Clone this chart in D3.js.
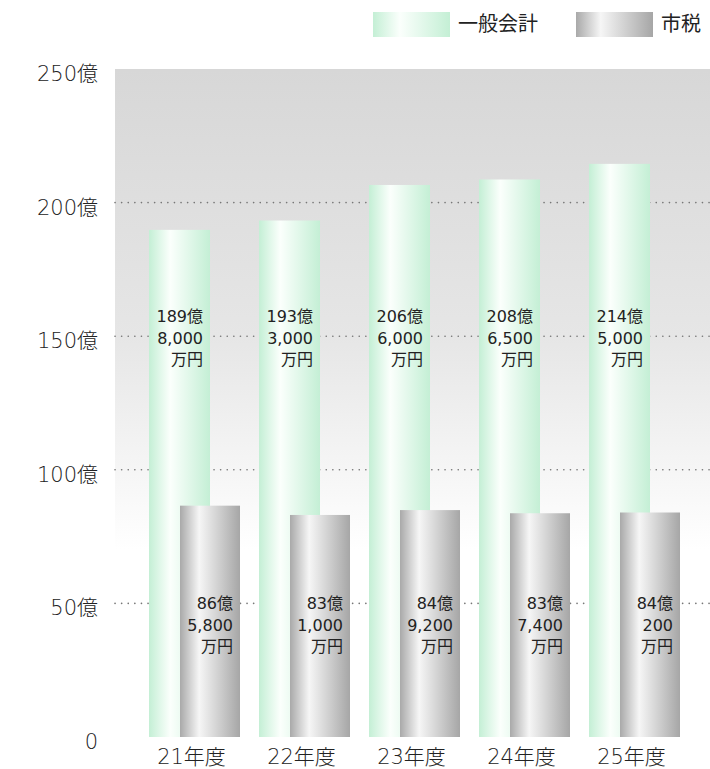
<!DOCTYPE html>
<html>
<head>
<meta charset="utf-8">
<script src="https://cdn.jsdelivr.net/npm/d3@7"></script>
<style>
body{margin:0;background:#fff;}
text{font-family:"DejaVu Sans","Noto Sans CJK JP",sans-serif;fill:#222;}
</style>
</head>
<body>
<div id="chart"></div>
<script>
var years=["21年度","22年度","23年度","24年度","25年度"]
var ippan=[189.8,193.3,206.6,208.65,214.5]
var shizei=[86.58,83.1,84.92,83.74,84.02]
var ippanLabels=[["189億","8,000","万円"],["193億","3,000","万円"],["206億","6,000","万円"],["208億","6,500","万円"],["214億","5,000","万円"]]
var shizeiLabels=[["86億","5,800","万円"],["83億","1,000","万円"],["84億","9,200","万円"],["83億","7,400","万円"],["84億","200","万円"]]
var yTicks=[0,50,100,150,200,250]
var gridTicks=[50,100,150,200]
var legendNames=["一般会計","市税"]

var width=710,height=769
var svg=d3.select("#chart").append("svg").attr("width",width).attr("height",height)
var defs=svg.append("defs")

// background fade
var bg=defs.append("linearGradient").attr("id","bg").attr("x1",0).attr("y1",0).attr("x2",0).attr("y2",1)
bg.append("stop").attr("offset","0%").attr("stop-color","#d7d7d7")
bg.append("stop").attr("offset","40%").attr("stop-color","#e6e6e6")
bg.append("stop").attr("offset","62%").attr("stop-color","#f7f7f7")
bg.append("stop").attr("offset","72%").attr("stop-color","#ffffff")
bg.append("stop").attr("offset","100%").attr("stop-color","#ffffff")

var gGreen=defs.append("linearGradient").attr("id","green").attr("x1",0).attr("x2",1).attr("y1",0).attr("y2",0)
gGreen.append("stop").attr("offset","0%").attr("stop-color","#c4efd5")
gGreen.append("stop").attr("offset","35%").attr("stop-color","#fbfffc")
gGreen.append("stop").attr("offset","100%").attr("stop-color","#c4efd5")

var gGray=defs.append("linearGradient").attr("id","gray").attr("x1",0).attr("x2",1).attr("y1",0).attr("y2",0)
gGray.append("stop").attr("offset","0%").attr("stop-color","#a9a9a9")
gGray.append("stop").attr("offset","32%").attr("stop-color","#f6f6f6")
gGray.append("stop").attr("offset","100%").attr("stop-color","#a6a6a6")

var y=d3.scaleLinear().domain([0,250]).range([737,69])
var x=d3.scaleBand().domain(years).range([139.5,689.5])

svg.append("rect").attr("x",115).attr("y",y(250)).attr("width",width-115).attr("height",y(0)-y(250)).attr("fill","url(#bg)")

svg.append("g").selectAll("line").data(gridTicks).enter().append("line")
	.attr("x1",115).attr("x2",width)
	.attr("y1",function(d){return y(d)}).attr("y2",function(d){return y(d)})
	.attr("stroke","#777").attr("stroke-width",1.6)
	.attr("stroke-linecap","round")
	.attr("stroke-dasharray","0.1,6.5")

var yAxis=svg.append("g").attr("transform","translate(98,0)")
	.call(d3.axisLeft(y).tickValues(yTicks).tickSize(0).tickPadding(0)
	.tickFormat(function(d){return d==0?"0":d+"億"}))
yAxis.select(".domain").remove()
yAxis.selectAll("text").attr("font-size",21).attr("font-weight",300).attr("dy","0.55em")
	.attr("font-family",null).attr("fill","#1a1a1a")

function center(i){return x(years[i])+x.bandwidth()/2}

svg.append("g").selectAll("rect").data(ippan).enter().append("rect")
	.attr("x",function(d,i){return center(i)-45.5})
	.attr("y",function(d){return y(d)})
	.attr("width",61)
	.attr("height",function(d){return y(0)-y(d)})
	.attr("fill","url(#green)")

svg.append("g").selectAll("rect").data(shizei).enter().append("rect")
	.attr("x",function(d,i){return center(i)-14.5})
	.attr("y",function(d){return y(d)})
	.attr("width",60)
	.attr("height",function(d){return y(0)-y(d)})
	.attr("fill","url(#gray)")

function drawLabels(data,right,top){
	var rows=[]
	data.forEach(function(d,i){d.forEach(function(s,j){rows.push({s:s,i:i,j:j})})})
	svg.append("g").selectAll("text").data(rows).enter().append("text")
		.attr("text-anchor","end")
		.attr("font-size",16)
		.attr("x",function(d){return center(d.i)+right})
		.attr("y",function(d){return top+d.j*21.5})
		.text(function(d){return d.s})
}
drawLabels(ippanLabels,8.5,y(150)-14)
drawLabels(shizeiLabels,38.5,y(50)+6)

svg.append("g").selectAll("text").data(years).enter().append("text")
	.attr("x",function(d,i){return center(i)-3})
	.attr("y",764)
	.attr("text-anchor","middle")
	.attr("font-size",21)
	.attr("font-weight",300)
	.attr("fill","#1a1a1a")
	.text(function(d){return d})

// legend
var legend=svg.append("g")
var legendFill=["url(#green)","url(#gray)"]
var legendX=[373,576]
legend.selectAll("rect").data(legendNames).enter().append("rect")
	.attr("x",function(d,i){return legendX[i]}).attr("y",12)
	.attr("width",77).attr("height",25)
	.attr("fill",function(d,i){return legendFill[i]})
legend.selectAll("text").data(legendNames).enter().append("text")
	.attr("x",function(d,i){return legendX[i]+85}).attr("y",31)
	.attr("font-size",20).attr("fill","#333")
	.text(function(d){return d})
</script>
</body>
</html>
